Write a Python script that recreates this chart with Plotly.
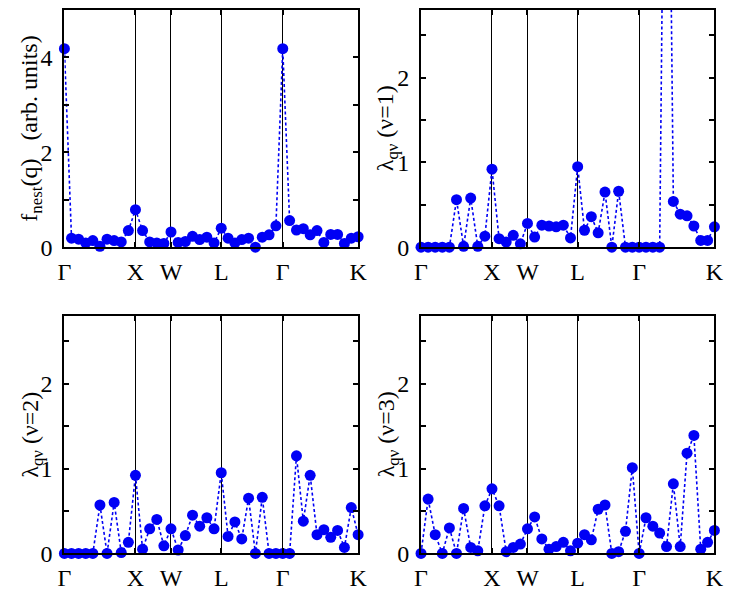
import numpy as np
import plotly.graph_objects as go

# High-symmetry path of the fcc Brillouin zone: Γ-X-W-L-Γ-K
path_labels = ["Γ", "X", "W", "L", "Γ", "K"]
segment_lengths = [1.0, 0.5, np.sqrt(2) / 2, np.sqrt(3) / 2, 3 * np.sqrt(2) / 4]  # units of 2π/a
segment_steps = [10, 5, 7, 9, 11]

# Nesting function f_nest(q)
f_nest = [
    4.18, 0.19, 0.17, 0.09, 0.14, 0.02, 0.17, 0.14, 0.11, 0.35, 0.79,
    0.35, 0.11, 0.09, 0.08, 0.32,
    0.10, 0.12, 0.23, 0.16, 0.21, 0.09, 0.40,
    0.19, 0.09, 0.16, 0.19, 0.00, 0.21, 0.26, 0.45, 4.18,
    0.56, 0.36, 0.39, 0.26, 0.35, 0.10, 0.27, 0.27, 0.08, 0.19, 0.22,
]

# Mode-resolved electron-phonon coupling λ_qν
lambda_nu1 = [
    0.00, 0.00, 0.00, 0.00, 0.00, 0.56, 0.01, 0.58, 0.01, 0.13, 0.92,
    0.10, 0.06, 0.14, 0.04, 0.28,
    0.12, 0.26, 0.25, 0.24, 0.26, 0.11, 0.95,
    0.20, 0.36, 0.17, 0.65, 0.00, 0.66, 0.00, 0.00, 0.00,
    0.00, 0.00, 0.00, 8.20, 0.54, 0.39, 0.37, 0.25, 0.08, 0.08, 0.24,
]
lambda_nu2 = [
    0.00, 0.00, 0.00, 0.00, 0.00, 0.57, 0.00, 0.60, 0.01, 0.13, 0.92,
    0.05, 0.29, 0.40, 0.09, 0.29,
    0.04, 0.21, 0.45, 0.32, 0.42, 0.29, 0.95,
    0.20, 0.37, 0.17, 0.65, 0.00, 0.66, 0.00, 0.00, 0.00,
    0.00, 1.15, 0.38, 0.92, 0.22, 0.28, 0.19, 0.27, 0.07, 0.54, 0.22,
]
lambda_nu3 = [
    0.00, 0.64, 0.22, 0.00, 0.30, 0.00, 0.53, 0.07, 0.03, 0.56, 0.76,
    0.56, 0.02, 0.07, 0.11, 0.29,
    0.43, 0.17, 0.05, 0.08, 0.13, 0.03, 0.12,
    0.22, 0.16, 0.52, 0.57, 0.00, 0.02, 0.26, 1.01, 0.00,
    0.42, 0.32, 0.24, 0.08, 0.82, 0.08, 1.18, 1.39, 0.05, 0.13, 0.27,
]

# Distance along the path for each q point
nodes = np.concatenate([[0.0], np.cumsum(segment_lengths)])
q_dist = [0.0]
for start, length, n in zip(nodes[:-1], segment_lengths, segment_steps):
    q_dist.extend(start + length * np.arange(1, n + 1) / n)
q_dist = np.array(q_dist)

BLUE = "rgb(0,0,245)"
FONT = "Liberation Serif"
FS = 24
W, H = 729, 598

panels = [
    dict(y=f_nest, yr=[0, 5], yt=[0, 1, 2, 3, 4, 5], ytt=["0", "", "2", "", "4", ""],
         title="f<sub>nest</sub>(q)\u00a0\u00a0\u00a0(arb. units)",
         xd=[58.7, 359.0], yd=[252.7, 10.0]),
    dict(y=lambda_nu1, yr=[0, 2.8], yt=[0, 0.5, 1, 1.5, 2, 2.5], ytt=["0", "", "1", "", "2", ""],
         title="λ<sub>qν</sub> (ν=1)",
         xd=[423.3, 723.3], yd=[252.7, 10.0]),
    dict(y=lambda_nu2, yr=[0, 2.8], yt=[0, 0.5, 1, 1.5, 2, 2.5], ytt=["0", "", "1", "", "2", ""],
         title="λ<sub>qν</sub> (ν=2)",
         xd=[58.7, 359.0], yd=[565.7, 322.7]),
    dict(y=lambda_nu3, yr=[0, 2.8], yt=[0, 0.5, 1, 1.5, 2, 2.5], ytt=["0", "", "1", "", "2", ""],
         title="λ<sub>qν</sub> (ν=3)",
         xd=[423.3, 723.3], yd=[565.7, 322.7]),
]

fig = go.Figure()
layout = dict(
    width=W, height=H,
    margin=dict(l=0, r=0, t=0, b=0),
    paper_bgcolor="white", plot_bgcolor="white",
    showlegend=False,
    font=dict(family=FONT, size=FS, color="black"),
    annotations=[],
)

for i, p in enumerate(panels, start=1):
    xa = "x" if i == 1 else f"x{i}"
    ya = "y" if i == 1 else f"y{i}"
    x_dom = [p["xd"][0] / W, p["xd"][1] / W]
    y_dom = [1 - p["yd"][0] / H, 1 - p["yd"][1] / H]
    fig.add_trace(go.Scatter(
        x=q_dist, y=p["y"], xaxis=xa, yaxis=ya, mode="lines+markers",
        line=dict(color=BLUE, width=1.6, dash="3px,2.5px"),
        marker=dict(color=BLUE, size=11),
        cliponaxis=False,
    ))
    layout[f"xaxis{'' if i == 1 else i}"] = dict(
        domain=x_dom, anchor=ya, range=[0, nodes[-1]],
        tickmode="array", tickvals=list(nodes), ticktext=path_labels,
        showgrid=True, gridcolor="black", gridwidth=1,
        showline=True, linecolor="black", linewidth=2, mirror="ticks",
        ticks="inside", ticklen=5, tickwidth=1.5, tickcolor="black",
        zeroline=False, tickfont=dict(family=FONT, size=FS),
        ticklabelstandoff=2,
    )
    layout[f"yaxis{'' if i == 1 else i}"] = dict(
        domain=y_dom, anchor=xa, range=p["yr"],
        tickmode="array", tickvals=p["yt"], ticktext=p["ytt"],
        showgrid=False, zeroline=False,
        showline=True, linecolor="black", linewidth=2, mirror="ticks",
        ticks="inside", ticklen=5, tickwidth=1.5, tickcolor="black",
        tickfont=dict(family=FONT, size=FS), ticklabelstandoff=5,
    )
    layout["annotations"].append(dict(
        text=p["title"], textangle=-90, showarrow=False,
        xref="paper", yref="paper",
        x=(p["xd"][0] - 34) / W, y=(y_dom[0] + y_dom[1]) / 2,
        xanchor="center", yanchor="middle",
        font=dict(family=FONT, size=FS, color="black"),
    ))

fig.update_layout(**layout)
fig.write_html("out.html")
